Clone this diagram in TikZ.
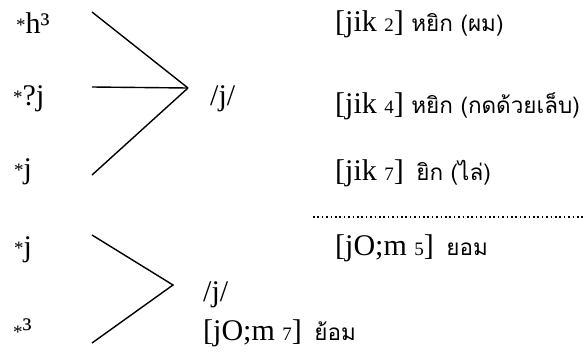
\documentclass[tikz,border=0pt]{standalone}
\usepackage{fontspec}
\setmainfont{Liberation Serif}
\newfontfamily\thaifont[Script=Thai]{Loma}
\newcommand{\smtxt}[1]{{\fontsize{19}{22}\selectfont #1}}
\newcommand{\myast}{\raisebox{2pt}{\smtxt{*}}}
\newcommand{\thtxt}[1]{{\thaifont\fontsize{22.5}{26}\selectfont #1}}
\begin{document}
\begin{tikzpicture}[x=1pt,y=-1pt,
  lbl/.style={anchor=base west,inner sep=0pt,font=\fontsize{30}{34}\selectfont},
  ln/.style={line width=1.4pt},
  dotln/.style={line width=1.6pt,dash pattern=on 1.6pt off 2.8pt}]
\useasboundingbox (0,0) rectangle (586,351);
% left labels
\node[lbl] (a1) at (16,33) {\myast h³};
\node[lbl] (a2) at (13,105) {\myast ?j};
\node[lbl] (a3) at (14,178) {\myast j};
\node[lbl] (b1) at (14,256) {\myast j};
\node[lbl] (b2) at (13,338) {\smtxt{*}³};
% connectors top
\coordinate (s1) at (92,12);
\coordinate (s2) at (92,87);
\coordinate (s3) at (92,175);
\coordinate (m) at (188,88);
\draw[ln] (s1) -- (m);
\draw[ln] (s2) -- (m);
\draw[ln] (s3) -- (m);
\node[lbl] (p1) at (210,105) {/j/};
% connectors bottom
\coordinate (t1) at (92,235);
\coordinate (t2) at (92,343);
\coordinate (n) at (173,285);
\draw[ln] (t1) -- (n) -- (t2);
\node[lbl] (p2) at (203,301) {/j/};
% right column
\node[lbl] (r1) at (335,31) {[jik \smtxt{2}] \thtxt{หยิก (ผม)}};
\node[lbl] (r2) at (335,113) {[jik \smtxt{4}] \thtxt{หยิก (กดด้วยเล็บ)}};
\node[lbl] (r3) at (335,180) {[jik \smtxt{7}]\, \thtxt{ยิก (ไล่)}};
\coordinate (d1) at (313,217);
\coordinate (d2) at (586,217);
\draw[dotln] (d1) -- (d2);
\node[lbl] (r4) at (335,255) {[jO;m \smtxt{5}]\, \thtxt{ยอม}};
\node[lbl] (r5) at (203,340) {[jO;m \smtxt{7}]\, \thtxt{ย้อม}};
\end{tikzpicture}
\end{document}
